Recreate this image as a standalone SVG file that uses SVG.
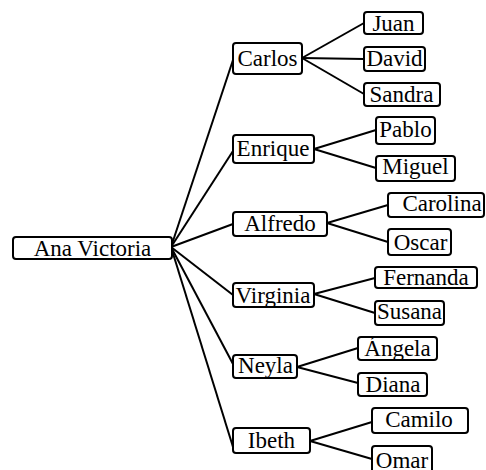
<svg xmlns="http://www.w3.org/2000/svg" width="486" height="470" viewBox="0 0 486 470">
  <style>
    .box { fill: #fff; stroke: #000; stroke-width: 2; }
    .lbl { font-family: "Liberation Serif", "Times New Roman", serif; font-size: 23px; fill: #000; text-anchor: middle; }
    .edge { stroke: #000; stroke-width: 2; fill: none; }
  </style>
  <rect width="486" height="470" fill="#fff"/>

  <!-- connectors -->
  <g id="connectors" class="edge">
    <line x1="171" y1="247" x2="233" y2="60"/>
    <line x1="171" y1="247" x2="233" y2="151"/>
    <line x1="171" y1="247" x2="233" y2="224"/>
    <line x1="171" y1="247" x2="233" y2="295"/>
    <line x1="171" y1="247" x2="233" y2="364"/>
    <line x1="171" y1="247" x2="233" y2="447"/>

    <line x1="302" y1="58" x2="364" y2="23"/>
    <line x1="302" y1="58" x2="364" y2="59"/>
    <line x1="302" y1="58" x2="364" y2="94"/>

    <line x1="314" y1="149" x2="376" y2="130"/>
    <line x1="314" y1="149" x2="376" y2="168"/>

    <line x1="327" y1="223" x2="388" y2="205"/>
    <line x1="327" y1="223" x2="388" y2="242"/>

    <line x1="314" y1="294" x2="375" y2="278"/>
    <line x1="314" y1="294" x2="375" y2="313"/>

    <line x1="297" y1="367" x2="358" y2="348"/>
    <line x1="297" y1="367" x2="358" y2="383"/>

    <line x1="310" y1="441" x2="372" y2="422"/>
    <line x1="310" y1="441" x2="372" y2="459"/>
  </g>

  <!-- root -->
  <g id="ana-victoria">
    <rect class="box" x="13" y="237" width="159" height="22" rx="3"/>
    <text class="lbl" x="92.5" y="255.5">Ana Victoria</text>
  </g>

  <!-- children -->
  <g id="carlos">
    <rect class="box" x="233" y="43" width="69" height="31" rx="3"/>
    <text class="lbl" x="267.5" y="66">Carlos</text>
  </g>
  <g id="enrique">
    <rect class="box" x="233" y="135" width="81" height="28" rx="3"/>
    <text class="lbl" x="273" y="156">Enrique</text>
  </g>
  <g id="alfredo">
    <rect class="box" x="233" y="212" width="94" height="24" rx="3"/>
    <text class="lbl" x="280" y="230.5">Alfredo</text>
  </g>
  <g id="virginia">
    <rect class="box" x="233" y="283" width="81" height="24" rx="3"/>
    <text class="lbl" x="273" y="303">Virginia</text>
  </g>
  <g id="neyla">
    <rect class="box" x="233" y="355" width="64" height="23" rx="3"/>
    <text class="lbl" x="265.5" y="373">Neyla</text>
  </g>
  <g id="ibeth">
    <rect class="box" x="233" y="428" width="77" height="25" rx="3"/>
    <text class="lbl" x="271.5" y="448">Ibeth</text>
  </g>

  <!-- grandchildren -->
  <g id="juan">
    <rect class="box" x="364" y="12" width="59" height="22" rx="3"/>
    <text class="lbl" x="393.5" y="30.5">Juan</text>
  </g>
  <g id="david">
    <rect class="box" x="364" y="47" width="61" height="24" rx="3"/>
    <text class="lbl" x="394.5" y="66">David</text>
  </g>
  <g id="sandra">
    <rect class="box" x="364" y="83" width="76" height="23" rx="3"/>
    <text class="lbl" x="401.5" y="101.5">Sandra</text>
  </g>
  <g id="pablo">
    <rect class="box" x="376" y="117" width="59" height="27" rx="3"/>
    <text class="lbl" x="405.5" y="137">Pablo</text>
  </g>
  <g id="miguel">
    <rect class="box" x="376" y="156" width="79" height="25" rx="3"/>
    <text class="lbl" x="415.5" y="174">Miguel</text>
  </g>
  <g id="carolina">
    <rect class="box" x="388" y="193" width="96" height="24" rx="3"/>
    <text class="lbl" x="442" y="211">Carolina</text>
  </g>
  <g id="oscar">
    <rect class="box" x="388" y="229" width="63" height="26" rx="3"/>
    <text class="lbl" x="420.5" y="250">Oscar</text>
  </g>
  <g id="fernanda">
    <rect class="box" x="375" y="267" width="102" height="21" rx="3"/>
    <text class="lbl" x="426" y="284.5">Fernanda</text>
  </g>
  <g id="susana">
    <rect class="box" x="375" y="301" width="69" height="24" rx="3"/>
    <text class="lbl" x="409.5" y="318.5">Susana</text>
  </g>
  <g id="angela">
    <rect class="box" x="358" y="337" width="79" height="23" rx="3"/>
    <text class="lbl" x="397.5" y="356">Ángela</text>
  </g>
  <g id="diana">
    <rect class="box" x="358" y="373" width="69" height="23" rx="3"/>
    <text class="lbl" x="393" y="391.5">Diana</text>
  </g>
  <g id="camilo">
    <rect class="box" x="372" y="408" width="96" height="25" rx="3"/>
    <text class="lbl" x="419" y="427">Camilo</text>
  </g>
  <g id="omar">
    <rect class="box" x="372" y="446" width="60" height="30" rx="3"/>
    <text class="lbl" x="402" y="468">Omar</text>
  </g>
</svg>
